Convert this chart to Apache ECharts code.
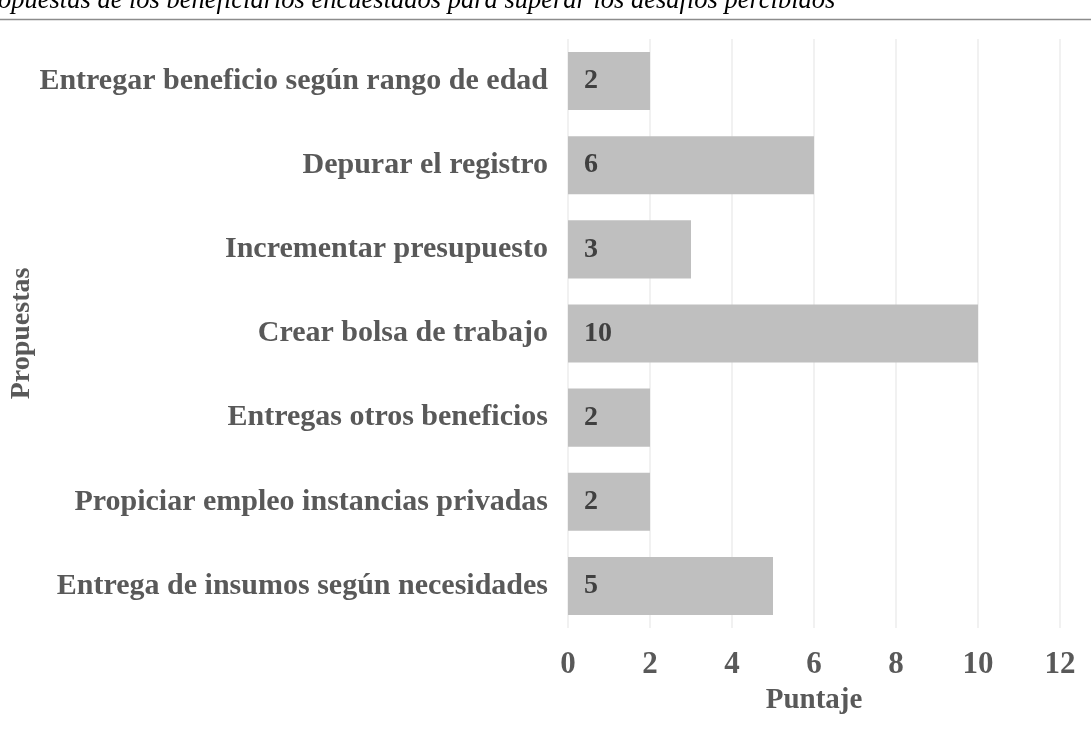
<!DOCTYPE html>
<html><head><meta charset="utf-8">
<script src="https://cdn.jsdelivr.net/npm/echarts@6/dist/echarts.min.js"></script>
<style>html,body{margin:0;padding:0;background:#fff}#c{width:1091px;height:747px}</style>
</head><body><div id="c"></div>
<script>
var titleText = 'opuestas de los beneficiarios encuestados para superar los desafíos percibidos';
var categories = ['Entregar beneficio según rango de edad','Depurar el registro','Incrementar presupuesto','Crear bolsa de trabajo','Entregas otros beneficios','Propiciar empleo instancias privadas','Entrega de insumos según necesidades'];
var values = [2, 6, 3, 10, 2, 2, 5];
var xTicks = [0, 2, 4, 6, 8, 10, 12];
var xName = 'Puntaje';
var yName = 'Propuestas';

var serif = '"Liberation Serif","DejaVu Serif",serif';
var chart = echarts.init(document.getElementById('c'));
chart.setOption({
  animation: false,
  backgroundColor: '#fff',
  grid: {left: 568, right: 31, top: 39, bottom: 119, containLabel: false},
  graphic: [
    {type: 'text', left: -2, top: -12, style: {text: titleText, font: 'italic 26.5px ' + serif, fill: '#000'}},
    {type: 'line', shape: {x1: 0, y1: 19.5, x2: 1091, y2: 19.5}, style: {stroke: '#8c8c8c', lineWidth: 1.5}}
  ],
  xAxis: {
    type: 'value', min: xTicks[0], max: xTicks[xTicks.length-1], interval: 2,
    name: xName, nameLocation: 'middle', nameGap: 58,
    nameTextStyle: {fontFamily: serif, fontWeight: 'bold', fontSize: 29, color: '#595959'},
    axisLine: {show: false}, axisTick: {show: false},
    axisLabel: {fontFamily: serif, fontWeight: 'bold', fontSize: 31, color: '#595959', margin: 21},
    splitLine: {show: true, lineStyle: {color: '#ececec', width: 1.5}}
  },
  yAxis: {
    type: 'category', data: categories, inverse: true,
    name: yName, nameLocation: 'middle', nameGap: 531, nameRotate: 90,
    nameTextStyle: {fontFamily: serif, fontWeight: 'bold', fontSize: 28, color: '#595959'},
    axisLine: {show: false}, axisTick: {show: false},
    axisLabel: {fontFamily: serif, fontWeight: 'bold', fontSize: 30, color: '#595959', margin: 20}
  },
  series: [{
    type: 'bar', data: values, barWidth: '69%',
    itemStyle: {color: '#bfbfbf'},
    label: {show: true, position: 'insideLeft', distance: 16, fontFamily: serif, fontWeight: 'bold', fontSize: 28, color: '#404040'}
  }]
});
</script></body></html>
